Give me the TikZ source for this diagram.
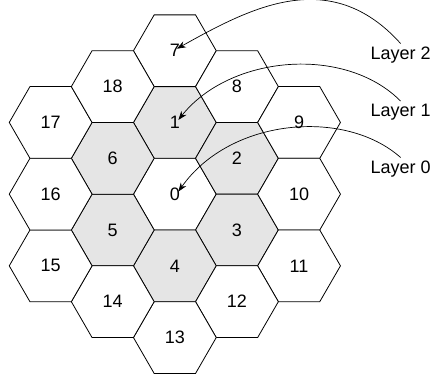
\documentclass[tikz,border=0pt]{standalone}
\usepackage{fontspec}
\setmainfont{Liberation Sans}
\usetikzlibrary{shapes.geometric,arrows.meta,calc}
\begin{document}
\begin{tikzpicture}[x=1pt,y=-1pt,
  cell/.style={regular polygon, regular polygon sides=6, minimum size=82.8pt,
    inner sep=0pt, outer sep=0pt, draw=black, line width=0.8pt,
    font=\fontsize{18}{21}\selectfont},
  plaincell/.style={cell, fill=white},
  ringcell/.style={cell, fill=black!10},
  layerlabel/.style={font=\fontsize{18}{21}\selectfont, anchor=base west,
    inner xsep=0pt, inner ysep=3pt},
  pointer/.style={line width=0.7pt, -{Stealth[length=9pt,width=6.5pt]}}]
\useasboundingbox (0,0) rectangle (433,379);
\coordinate (c) at (174.85,194.15);

% hexagonal cells: centre, first ring (shaded), second ring
\begin{scope}[shift={(c)}, x=62.1pt, y=-71.7pt]
  \node[plaincell] (h0) at (0,0) {0};
  \foreach \n/\i/\j in {1/0/-1, 2/1/-0.5, 3/1/0.5, 4/0/1, 5/-1/0.5, 6/-1/-0.5}
    \node[ringcell] (h\n) at (\i,\j) {\n};
  \foreach \n/\i/\j in {7/0/-2, 8/1/-1.5, 9/2/-1, 10/2/0, 11/2/1, 12/1/1.5,
                        13/0/2, 14/-1/1.5, 15/-2/1, 16/-2/0, 17/-2/-1, 18/-1/-1.5}
    \node[plaincell] (h\n) at (\i,\j) {\n};
\end{scope}

% layer captions
\node[layerlabel] (L2) at (370.4,59.3) {Layer 2};
\node[layerlabel] (L1) at (370.4,116.7) {Layer 1};
\node[layerlabel] (L0) at (370.4,173.3) {Layer 0};

% pointers from captions to the first cell of each layer
\draw[pointer] (L2.north) .. controls (330,-35) and (250,8) .. ($(h7.center)+(2,-2)$);
\draw[pointer] (L1.north) .. controls (345,45) and (230,55) .. ($(h1.center)+(3.5,-2.5)$);
\draw[pointer] (L0.north) .. controls (345,108) and (230,118) .. ($(h0.center)+(3.5,-2.5)$);
\end{tikzpicture}
\end{document}
